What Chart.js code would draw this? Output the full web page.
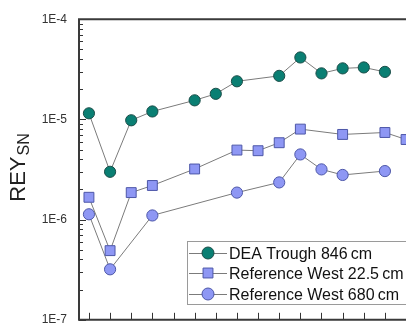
<!DOCTYPE html>
<html>
<head>
<meta charset="utf-8">
<script src="https://cdn.jsdelivr.net/npm/chart.js@4"></script>
<style>
  html, body { margin: 0; padding: 0; background: #fff; overflow: hidden; }
  #wrap { position: relative; width: 440px; height: 339px; }
</style>
</head>
<body>
<div id="wrap"><canvas id="c"></canvas></div>
<script>
// sample positions along x (no labels shown on the axis)
const positions = [0, 1, 2, 3, 4, 5, 6, 7, 8, 9, 10, 11, 12, 13, 14, 15];

const seriesNames = ["DEA Trough 846\u2009cm", "Reference West 22.5\u2009cm", "Reference West 680\u2009cm"];

const deaTrough = [1.15e-5, 3.0e-6, 9.8e-6, 1.2e-5, null, 1.55e-5, 1.8e-5, 2.4e-5, null, 2.72e-5, 4.15e-5, 2.88e-5, 3.23e-5, 3.3e-5, 2.98e-5, null];
const refWest225 = [1.67e-6, 4.9e-7, 1.86e-6, 2.19e-6, null, 3.2e-6, null, 4.94e-6, 4.87e-6, 5.85e-6, 8.0e-6, null, 7.08e-6, null, 7.4e-6, 6.3e-6];
const refWest680 = [1.13e-6, 3.19e-7, null, 1.1e-6, null, null, null, 1.86e-6, null, 2.35e-6, 4.47e-6, 3.17e-6, 2.79e-6, null, 3.05e-6, null];

const yTickDecades = [1e-7, 1e-6, 1e-5, 1e-4];

const LINE = "#7b7b7b";
const AXIS = "#333333";
const FONT = "'Liberation Sans', Arial, sans-serif";

function pts(arr) {
  return positions.map((x, i) => ({ x: x, y: arr[i] })).filter(p => p.y !== null);
}

const datasets = [
  { label: seriesNames[0], data: pts(deaTrough), pointStyle: "circle", pointRadius: 5.6,
    backgroundColor: "#0a7f73", pointBorderColor: "#1a4d48" },
  { label: seriesNames[1], data: pts(refWest225), pointStyle: "rect", pointRadius: 7,
    backgroundColor: "#8e97f4", pointBorderColor: "#4d57a8" },
  { label: seriesNames[2], data: pts(refWest680), pointStyle: "circle", pointRadius: 5.6,
    backgroundColor: "#8e97f4", pointBorderColor: "#4d57a8" },
].map(d => Object.assign(d, {
  borderColor: LINE, borderWidth: 1, pointBorderWidth: 1,
  pointBackgroundColor: d.backgroundColor, showLine: true, tension: 0,
}));

// frame, inward ticks, axis title and boxed legend
const decor = {
  id: "decor",
  afterDraw(chart) {
    const ctx = chart.ctx;
    const a = chart.chartArea;
    const x = chart.scales.x, y = chart.scales.y;
    ctx.save();

    // minor + major ticks on the left axis
    ctx.strokeStyle = AXIS;
    ctx.lineWidth = 1;
    for (let e = -7; e <= -5; e++) {
      for (let m = 1; m <= 9; m++) {
        const v = m * Math.pow(10, e);
        const py = Math.round(y.getPixelForValue(v)) + 0.5;
        const len = m === 1 ? 7 : 4;
        ctx.beginPath();
        ctx.moveTo(a.left, py);
        ctx.lineTo(a.left + len, py);
        ctx.stroke();
      }
    }
    // bottom ticks pointing up
    positions.forEach(p => {
      const px = Math.round(x.getPixelForValue(p)) + 0.5;
      ctx.beginPath();
      ctx.moveTo(px, a.bottom);
      ctx.lineTo(px, a.bottom - 7);
      ctx.stroke();
    });

    // frame lines
    ctx.lineWidth = 2;
    ctx.strokeStyle = "#3a3a3a";
    ctx.beginPath();
    ctx.moveTo(a.right + 20, a.top);
    ctx.lineTo(a.left, a.top);
    ctx.lineTo(a.left, a.bottom);
    ctx.lineTo(a.right + 20, a.bottom);
    ctx.stroke();

    // y axis title: REY with subscript SN
    ctx.fillStyle = "#222";
    ctx.translate(25, 168);
    ctx.rotate(-Math.PI / 2);
    ctx.textBaseline = "alphabetic";
    ctx.font = "22px " + FONT;
    const w1 = ctx.measureText("REY").width;
    ctx.font = "16px " + FONT;
    const w2 = ctx.measureText("SN").width;
    const start = -(w1 + w2) / 2;
    ctx.font = "22px " + FONT;
    ctx.textAlign = "left";
    ctx.fillText("REY", start, 0);
    ctx.font = "16px " + FONT;
    ctx.fillText("SN", start + w1 + 1, 4);
    ctx.setTransform(1, 0, 0, 1, 0, 0);

    // legend
    const lx = 187, ly = 241;
    ctx.fillStyle = "#fff";
    ctx.fillRect(lx, ly, 300, 63);
    ctx.strokeStyle = "#9a9a9a";
    ctx.lineWidth = 1;
    ctx.strokeRect(lx + 0.5, ly + 0.5, 300, 63);
    const rows = [252.7, 273.3, 293.5];
    chart.data.datasets.forEach((d, i) => {
      const ry = Math.round(rows[i]) + 0.5;
      ctx.strokeStyle = LINE;
      ctx.lineWidth = 1;
      ctx.beginPath();
      ctx.moveTo(lx + 2, ry);
      ctx.lineTo(lx + 40, ry);
      ctx.stroke();
      ctx.fillStyle = d.backgroundColor;
      ctx.strokeStyle = d.pointBorderColor;
      const r = d.pointStyle === "rect" ? 7 : 6;
      Chart.helpers.drawPoint(ctx, { pointStyle: d.pointStyle, rotation: 0, borderWidth: 1, radius: r }, lx + 21, ry - 0.5);
      ctx.fillStyle = "#111";
      ctx.font = "16px " + FONT;
      ctx.textAlign = "left";
      ctx.textBaseline = "middle";
      ctx.fillText(d.label, lx + 42, ry + 1);
    });
    ctx.restore();
  },
};

new Chart(document.getElementById("c"), {
  type: "line",
  data: { datasets },
  options: {
    responsive: true,
    maintainAspectRatio: false,
    animation: false,
    layout: { padding: { top: 19, right: 12.8, bottom: 0, left: 0 } },
    plugins: { legend: { display: false }, tooltip: { enabled: false } },
    scales: {
      x: {
        type: "linear", display: false,
        min: -0.47, max: 16,
      },
      y: {
        type: "logarithmic",
        min: yTickDecades[0], max: yTickDecades[yTickDecades.length - 1],
        grid: { display: false, drawTicks: false },
        border: { display: false },
        afterFit(s) { s.width = 79; },
        afterBuildTicks(s) { s.ticks = yTickDecades.map(v => ({ value: v })); },
        ticks: {
          autoSkip: false,
          padding: 12,
          color: "#333",
          font: { family: FONT, size: 12 },
          callback: v => "1E" + Math.round(Math.log10(v)),
        },
      },
    },
  },
  plugins: [decor],
});
</script>
</body>
</html>
